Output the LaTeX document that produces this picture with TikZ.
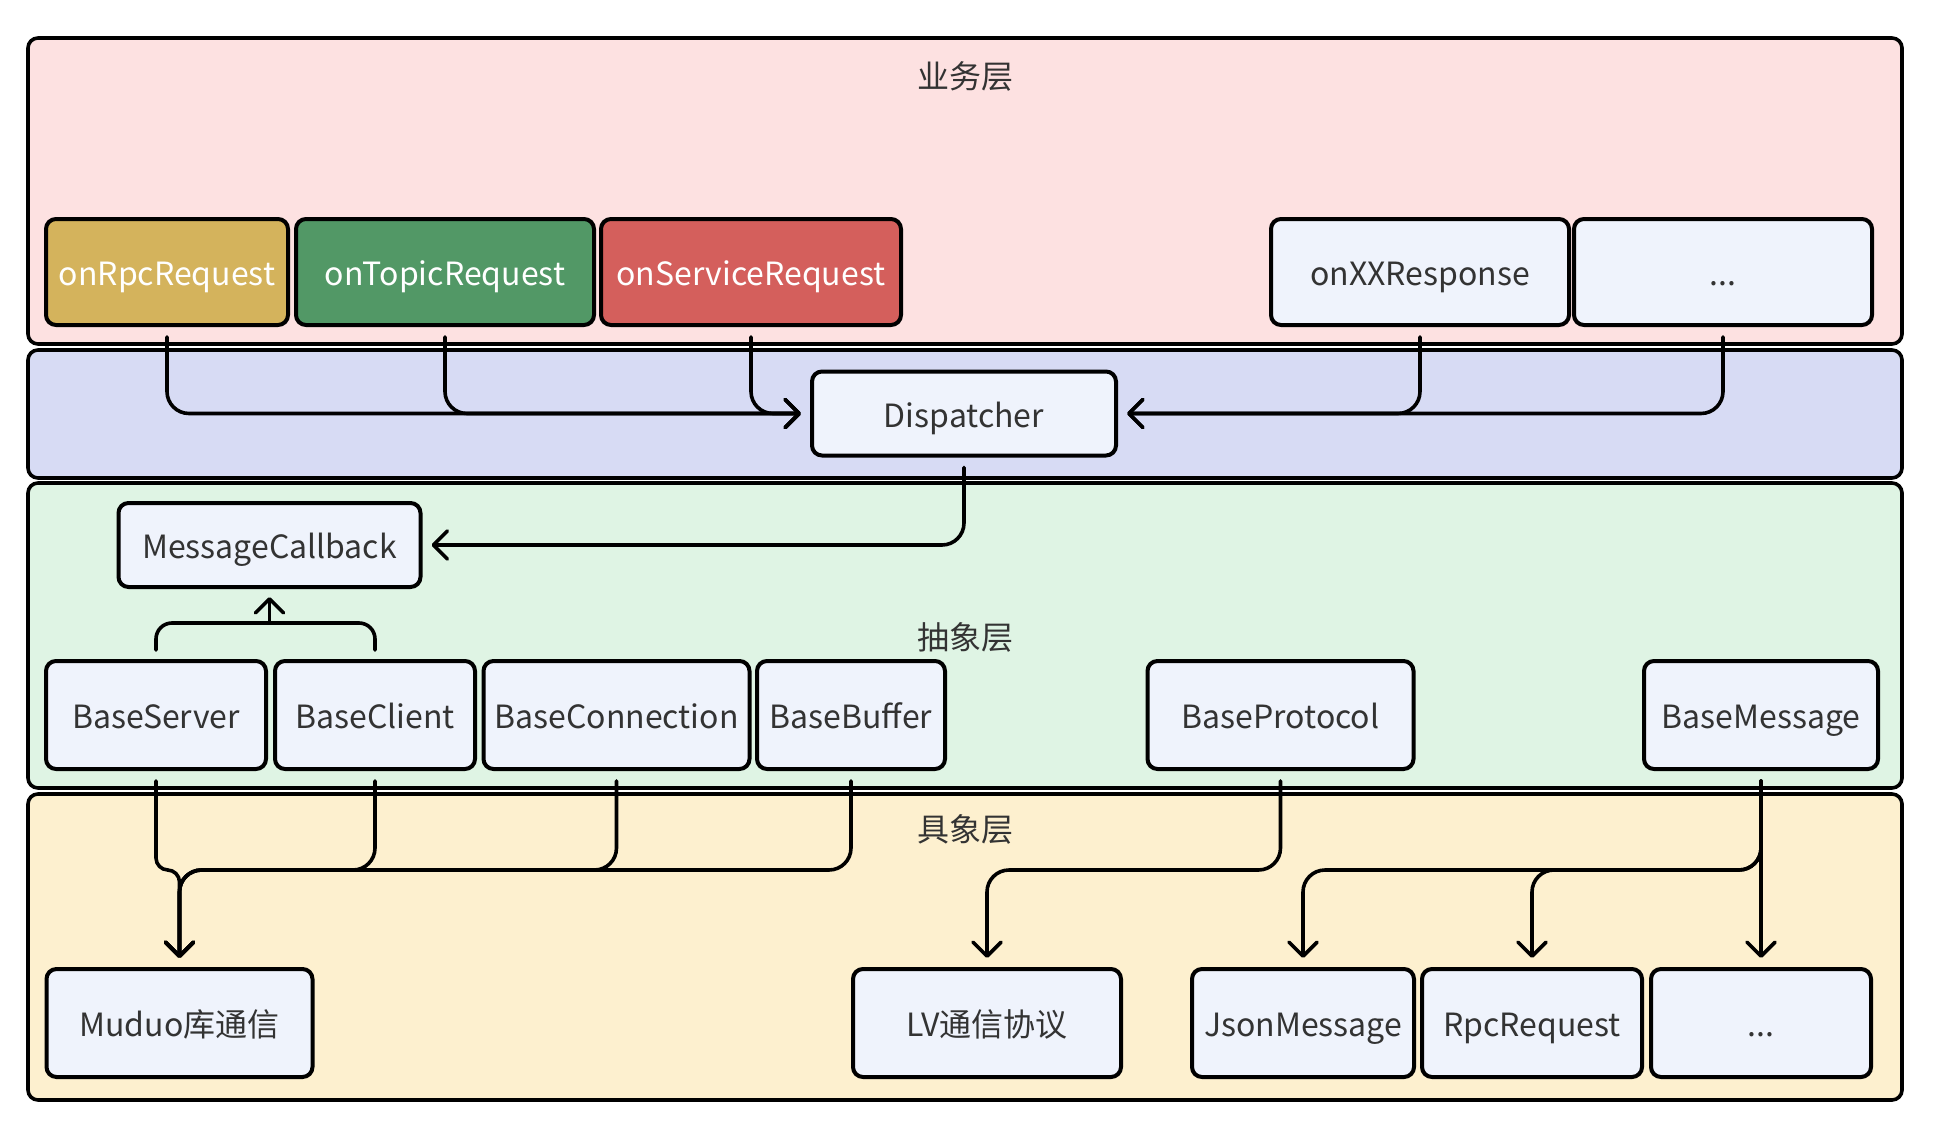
\documentclass[tikz,border=0pt]{standalone}
\usepackage{fontspec}
\setmainfont{Noto Sans CJK SC}
\usetikzlibrary{arrows.meta,calc}
\definecolor{pinkL}{HTML}{FDE1E1}
\definecolor{lavL}{HTML}{D7DBF4}
\definecolor{greenL}{HTML}{DFF4E4}
\definecolor{yellowL}{HTML}{FDF0CF}
\definecolor{nodeF}{HTML}{EFF3FC}
\definecolor{goldF}{HTML}{D4B35C}
\definecolor{grnF}{HTML}{529866}
\definecolor{redF}{HTML}{D45F5C}
\definecolor{txt}{HTML}{333333}
\tikzset{
  layer/.style={draw=black, line width=1.8pt, rounded corners=5pt},
  box/.style={draw=black, line width=2pt, rounded corners=5pt, fill=nodeF, text=txt,
    font=\fontsize{16pt}{19pt}\selectfont, inner sep=0pt, text height=14.5pt, text depth=0.8pt},
  ltitle/.style={text=txt, font=\fontsize{16pt}{19pt}\selectfont, inner sep=0pt, text height=14.5pt, text depth=0.8pt},
  conn/.style={draw=black, line width=1.8pt, rounded corners=11pt, line cap=round, line join=round},
  arr/.style={conn, -{Straight Barb[length=7pt,width=14pt,line cap=round,line join=round]}, shorten >=4.5pt},
}
\begin{document}
\begin{tikzpicture}[x=0.5pt,y=-0.5pt]
\useasboundingbox (0,0) rectangle (1950,1135);
% layers
\draw[layer, fill=pinkL] (28,38) rectangle (1902,344);
\draw[layer, fill=lavL] (28,350) rectangle (1902,478);
\draw[layer, fill=greenL] (28,483) rectangle (1902,788);
\draw[layer, fill=yellowL] (28,794) rectangle (1902,1100);
\node[ltitle] (t1) at (965,75) {业务层};
\node[ltitle] (t2) at (965,636) {抽象层};
\node[ltitle] (t3) at (965,828) {具象层};
% row 1
\node[box, fill=goldF, text=white, minimum width=121pt, minimum height=53pt] (rpc) at (167,272) {onRpcRequest};
\node[box, fill=grnF, text=white, minimum width=149pt, minimum height=53pt] (topic) at (445,272) {onTopicRequest};
\node[box, fill=redF, text=white, minimum width=150pt, minimum height=53pt] (service) at (751,272) {onServiceRequest};
\node[box, minimum width=149pt, minimum height=53pt] (xx) at (1420,272) {onXXResponse};
\node[box, minimum width=149pt, minimum height=53pt] (dots1) at (1723,272) {...};
% dispatcher
\node[box, minimum width=152pt, minimum height=42pt] (disp) at (964,413.5) {Dispatcher};
% abstract
\node[box, minimum width=151pt, minimum height=42pt] (mc) at (269.5,545) {MessageCallback};
\node[box, minimum width=110pt, minimum height=54pt] (bs) at (156,715) {BaseServer};
\node[box, minimum width=100pt, minimum height=54pt] (bc) at (375,715) {BaseClient};
\node[box, minimum width=133pt, minimum height=54pt] (bconn) at (616.5,715) {BaseConnection};
\node[box, minimum width=94pt, minimum height=54pt] (bbuf) at (851,715) {BaseBuffer};
\node[box, minimum width=133pt, minimum height=54pt] (bproto) at (1280.5,715) {BaseProtocol};
\node[box, minimum width=117pt, minimum height=54pt] (bmsg) at (1761,715) {BaseMessage};
% concrete
\node[box, minimum width=133pt, minimum height=54pt] (muduo) at (179.5,1023) {Muduo库通信};
\node[box, minimum width=134pt, minimum height=54pt] (lv) at (987,1023) {LV通信协议};
\node[box, minimum width=111pt, minimum height=54pt] (json) at (1303,1023) {JsonMessage};
\node[box, minimum width=110pt, minimum height=54pt] (rpcreq) at (1532,1023) {RpcRequest};
\node[box, minimum width=110pt, minimum height=54pt] (dots2) at (1761,1023) {...};
% connectors to dispatcher
\draw[arr] ([yshift=-5pt]rpc.south) |- (disp.west);
\draw[arr] ([yshift=-5pt]topic.south) |- (disp.west);
\draw[arr] ([yshift=-5pt]service.south) |- (disp.west);
\draw[arr] ([yshift=-5pt]xx.south) |- (disp.east);
\draw[arr] ([yshift=-5pt]dots1.south) |- (disp.east);
\draw[arr] ([yshift=-5pt]disp.south) |- (mc.east);
% bracket to MessageCallback
\coordinate (brk) at (0,623);
\draw[conn, rounded corners=8pt] ([yshift=4.5pt]bs.north) -- (bs.north |- brk) -- (bc.north |- brk) -- ([yshift=4.5pt]bc.north);
\draw[arr, shorten >=4pt] (mc.south |- brk) -- (mc.south);
% bus to concrete
\coordinate (bus) at (0,870);
\draw[arr, rounded corners=6pt] ([yshift=-5pt]bs.south) -- (bs.south |- bus) -- (muduo.north |- bus) -- (muduo.north);
\draw[arr] ([yshift=-5pt]bc.south) -- (bc.south |- bus) -- (muduo.north |- bus) -- (muduo.north);
\draw[arr] ([yshift=-5pt]bconn.south) -- (bconn.south |- bus) -- (muduo.north |- bus) -- (muduo.north);
\draw[arr] ([yshift=-5pt]bbuf.south) -- (bbuf.south |- bus) -- (muduo.north |- bus) -- (muduo.north);
\draw[arr] ([yshift=-5pt]bproto.south) -- (bproto.south |- bus) -- (lv.north |- bus) -- (lv.north);
\draw[arr] ([yshift=-5pt]bmsg.south) -- (bmsg.south |- bus) -- (json.north |- bus) -- (json.north);
\draw[arr] ([yshift=-5pt]bmsg.south) -- (bmsg.south |- bus) -- (rpcreq.north |- bus) -- (rpcreq.north);
\draw[arr] ([yshift=-5pt]bmsg.south) -- (dots2.north);
\end{tikzpicture}
\end{document}
